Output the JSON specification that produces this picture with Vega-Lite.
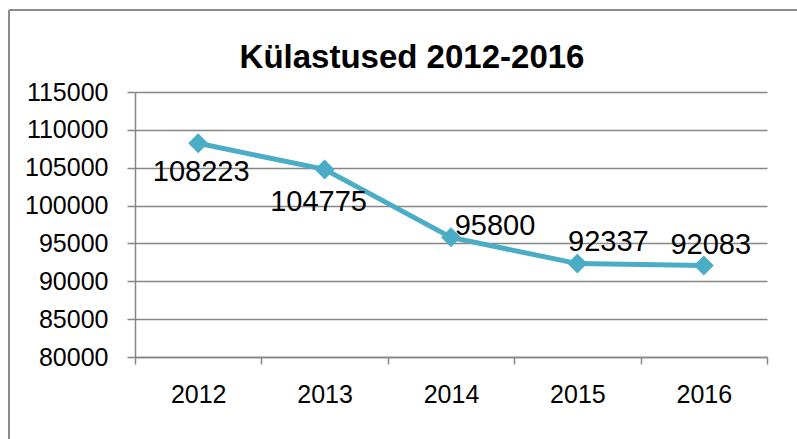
{
  "$schema": "https://vega.github.io/schema/vega-lite/v6.json",
  "width": 788,
  "height": 429,
  "autosize": {"type": "none"},
  "padding": {"left": 9, "top": 10, "right": 0, "bottom": 0},
  "background": "white",
  "title": {
    "text": "Külastused 2012-2016",
    "font": "Liberation Sans",
    "fontSize": 33,
    "fontWeight": "bold",
    "color": "#000000",
    "anchor": "middle",
    "dx": 9,
    "offset": -65
  },
  "config": {
    "view": {"stroke": "#8c8c8c", "strokeWidth": 2, "fill": "white", "strokeDash": [788, 1217, 429, 0]}
  },
  "data": {
    "values": [
      {"year": "2012", "visits": 108223},
      {"year": "2013", "visits": 104775},
      {"year": "2014", "visits": 95800},
      {"year": "2015", "visits": 92337},
      {"year": "2016", "visits": 92083}
    ]
  },
  "encoding": {
    "x": {
      "field": "year",
      "type": "ordinal",
      "bandPosition": 0.5,
      "scale": {"type": "band", "paddingInner": 0, "paddingOuter": 0, "range": [126, 758]},
      "axis": {
        "title": null,
        "offset": -82,
        "tickBand": "extent",
        "grid": false,
        "labelAngle": 0,
        "labelFont": "Liberation Sans",
        "labelFontSize": 25,
        "labelColor": "#000000",
        "labelPadding": 18,
        "tickSize": 7,
        "tickColor": "#868686",
        "tickWidth": 1.5,
        "domainColor": "#868686",
        "domainWidth": 1.5
      }
    },
    "y": {
      "field": "visits",
      "type": "quantitative",
      "scale": {"domain": [80000, 115000], "nice": false, "zero": false, "range": [347, 82]},
      "axis": {
        "title": null,
        "offset": -126,
        "values": [80000, 85000, 90000, 95000, 100000, 105000, 110000, 115000],
        "format": "d",
        "labelFont": "Liberation Sans",
        "labelFontSize": 25,
        "labelColor": "#000000",
        "labelPadding": 19,
        "tickSize": 8,
        "tickColor": "#868686",
        "tickWidth": 1.5,
        "domainColor": "#868686",
        "domainWidth": 1.5,
        "grid": true,
        "gridColor": "#868686",
        "gridWidth": 1.5
      }
    }
  },
  "layer": [
    {"mark": {"type": "line", "color": "#4BACC6", "strokeWidth": 5}},
    {"mark": {"type": "point", "shape": "diamond", "filled": true, "size": 400, "color": "#4BACC6", "opacity": 1}},
    {
      "transform": [{"filter": "datum.year == '2012'"}],
      "mark": {"type": "text", "font": "Liberation Sans", "fontSize": 29, "color": "#000000", "baseline": "middle", "align": "center", "dx": 3, "dy": 29},
      "encoding": {"text": {"field": "visits", "type": "quantitative", "format": "d"}}
    },
    {
      "transform": [{"filter": "datum.year == '2013'"}],
      "mark": {"type": "text", "font": "Liberation Sans", "fontSize": 29, "color": "#000000", "baseline": "middle", "align": "center", "dx": -6, "dy": 33},
      "encoding": {"text": {"field": "visits", "type": "quantitative", "format": "d"}}
    },
    {
      "transform": [{"filter": "datum.year == '2014'"}],
      "mark": {"type": "text", "font": "Liberation Sans", "fontSize": 29, "color": "#000000", "baseline": "middle", "align": "center", "dx": 44, "dy": -11},
      "encoding": {"text": {"field": "visits", "type": "quantitative", "format": "d"}}
    },
    {
      "transform": [{"filter": "datum.year == '2015'"}],
      "mark": {"type": "text", "font": "Liberation Sans", "fontSize": 29, "color": "#000000", "baseline": "middle", "align": "center", "dx": 31, "dy": -22},
      "encoding": {"text": {"field": "visits", "type": "quantitative", "format": "d"}}
    },
    {
      "transform": [{"filter": "datum.year == '2016'"}],
      "mark": {"type": "text", "font": "Liberation Sans", "fontSize": 29, "color": "#000000", "baseline": "middle", "align": "center", "dx": 7, "dy": -21},
      "encoding": {"text": {"field": "visits", "type": "quantitative", "format": "d"}}
    }
  ]
}
